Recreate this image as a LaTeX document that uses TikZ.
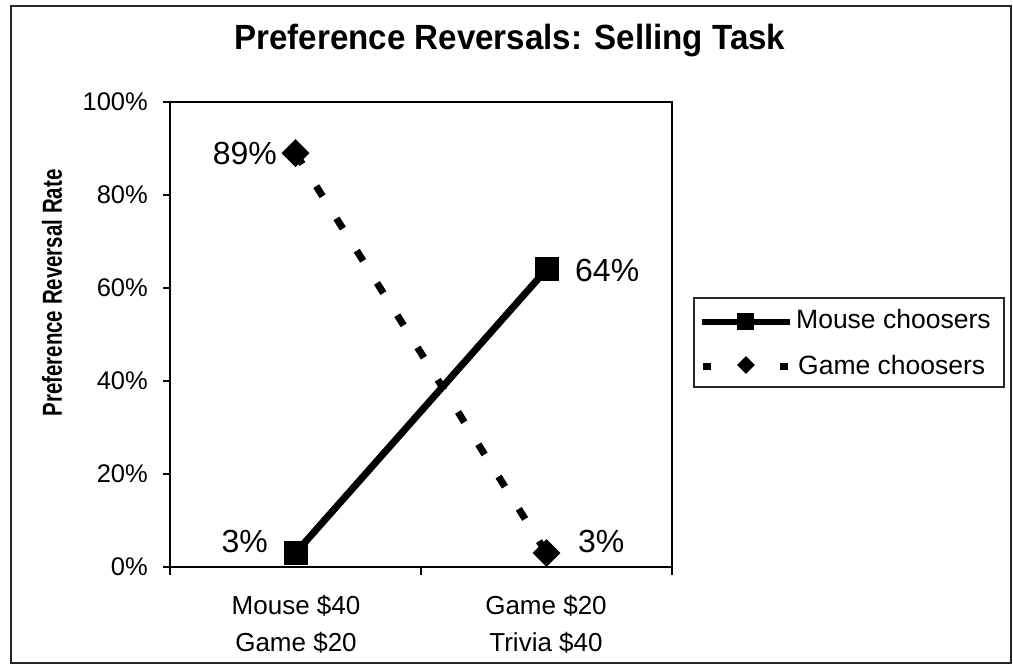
\documentclass[tikz,border=0pt]{standalone}
\usepackage{fontspec}
\usepackage{graphicx}
\setmainfont{Liberation Sans}
\usetikzlibrary{shapes.geometric}
\begin{document}
\begin{tikzpicture}[x=1pt,y=-1pt,
  frame/.style={draw=black!85,line width=1.6pt},
  axisline/.style={draw=black,line width=2pt},
  ticklbl/.style={anchor=east,inner sep=0pt,font=\fontsize{25.5}{30}\selectfont},
  catlbl/.style={anchor=north,inner sep=0pt,align=center,font=\fontsize{26}{37}\selectfont},
  datalbl/.style={inner sep=0pt,font=\fontsize{32}{38}\selectfont},
  sqmark/.style={rectangle,fill=black,inner sep=0pt,minimum size=24pt},
  dmmark/.style={diamond,aspect=1,fill=black,inner sep=0pt,minimum size=28pt},
  mouseline/.style={line width=7pt},
  gameline/.style={line width=7pt,dash pattern=on 12pt off 26.1pt,dash phase=37.2pt},
  legsq/.style={rectangle,fill=black,inner sep=0pt,minimum size=17pt},
  legdm/.style={diamond,aspect=1,fill=black,inner sep=0pt,minimum size=18pt},
  legtxt/.style={anchor=base west,inner sep=0pt,font=\fontsize{26.5}{30}\selectfont}]
\useasboundingbox (0,0) rectangle (1013,671);

% chart frame
\draw[frame] (11,6) rectangle (1011,663);

% title (narrow bold face)
\node[anchor=base,inner sep=0pt,font=\bfseries\fontsize{35}{42}\selectfont] (title) at (510,50)
  {\scalebox{0.946}[1]{Preference Reversals: Selling Task}};

% plot area and axes
\draw[axisline] (170,102) rectangle (672,567);
\foreach \k/\t in {0/0\%,1/20\%,2/40\%,3/60\%,4/80\%,5/100\%}{
  \draw[axisline] (163,{567-93*\k}) -- (170,{567-93*\k});
  \node[ticklbl] (ytick\k) at (148,{567-93*\k}) {\t};
}
\foreach \x in {170,421,672}{
  \draw[axisline] (\x,567) -- (\x,575);
}

% axis titles
\node[rotate=90,inner sep=0pt,font=\bfseries\fontsize{27.5}{32}\selectfont] (ytitle) at (52,293)
  {\scalebox{0.745}[1]{Preference Reversal Rate}};
\node[catlbl] (cat1) at (296,595) {Mouse \$40\\Game \$20};
\node[catlbl] (cat2) at (546,595) {Game \$20\\Trivia \$40};

% data points
\coordinate (m1) at (295.5,553);
\coordinate (m2) at (546.5,269.4);
\coordinate (g1) at (295.5,153.1);
\coordinate (g2) at (546.5,553);

% series lines
\draw[gameline] (g1) -- (g2);
\draw[mouseline] (m1) -- (m2);

% markers
\node[sqmark] (mk1) at (m1) {};
\node[sqmark] (mk2) at (m2) {};
\node[dmmark] (gk1) at (g1) {};
\node[dmmark] (gk2) at (g2) {};

% data labels
\node[datalbl,anchor=base east] (lg1) at (277,165) {89\%};
\node[datalbl,anchor=base east] (lm1) at (268,552) {3\%};
\node[datalbl,anchor=base west] (lm2) at (575,282) {64\%};
\node[datalbl,anchor=base west] (lg2) at (578,552) {3\%};

% legend
\node[draw=black!85,line width=1.5pt,minimum width=310pt,minimum height=89pt,inner sep=0pt]
  (legend) at (849,342.5) {};
\coordinate (la) at (702,322);
\coordinate (lb) at (790,322);
\draw[line width=6pt] (la) -- (lb);
\node[legsq] (lsq) at (745,322) {};
\node[legtxt] (lt1) at (796,329) {Mouse choosers};
\coordinate (lc) at (703,366);
\coordinate (ld) at (788,366);
\draw[line width=7pt,dash pattern=on 8pt off 30.5pt] (lc) -- (ld);
\node[legdm] (ldm) at (746,365) {};
\node[legtxt] (lt2) at (798,374) {Game choosers};
\end{tikzpicture}
\end{document}
